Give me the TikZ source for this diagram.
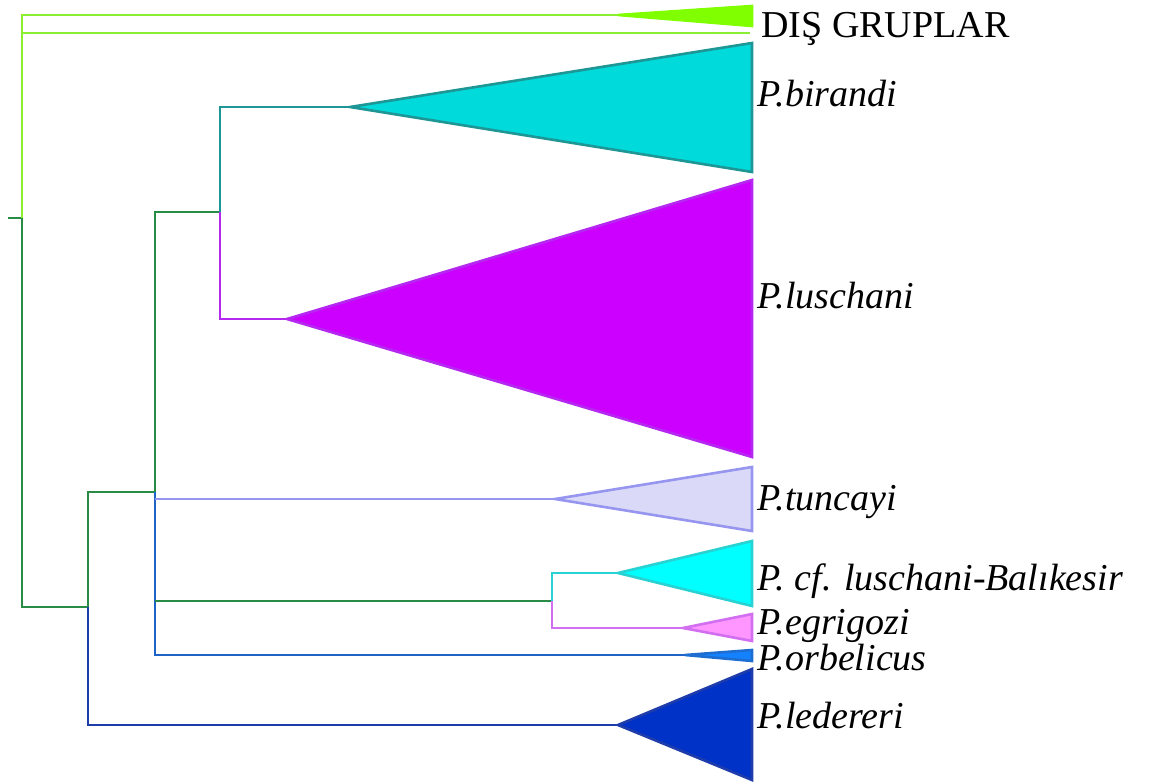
\documentclass[tikz,border=0pt]{standalone}
\usepackage{fontspec}
\setmainfont{Liberation Serif}
\definecolor{limeL}{RGB}{140,238,50}
\definecolor{limeF}{RGB}{128,255,0}
\definecolor{dgreen}{RGB}{40,140,70}
\definecolor{tealL}{RGB}{30,150,150}
\definecolor{tealF}{RGB}{0,218,218}
\definecolor{purpL}{RGB}{180,40,240}
\definecolor{purpF}{RGB}{204,0,255}
\definecolor{lavL}{RGB}{150,150,240}
\definecolor{lavF}{RGB}{218,218,248}
\definecolor{cyanL}{RGB}{40,210,210}
\definecolor{cyanF}{RGB}{0,255,255}
\definecolor{pinkL}{RGB}{210,110,240}
\definecolor{pinkF}{RGB}{255,150,255}
\definecolor{orbL}{RGB}{30,110,210}
\definecolor{orbF}{RGB}{20,130,255}
\definecolor{midblue}{RGB}{30,100,200}
\definecolor{navyL}{RGB}{30,60,170}
\definecolor{navyF}{RGB}{0,50,200}
\tikzset{
  branch/.style={line width=1.4pt},
  clade/.style={line width=1.3pt, line join=miter},
  taxon/.style={anchor=base west, inner sep=0pt, font=\fontsize{19pt}{21pt}\selectfont\itshape},
  outlabel/.style={anchor=base west, inner sep=0pt, font=\fontsize{19pt}{21pt}\selectfont}
}
\begin{document}
\begin{tikzpicture}[x=0.5pt,y=-0.5pt]
\useasboundingbox (0,0) rectangle (1152,782);
% internal nodes of the tree
\coordinate (stub) at (8,218);
\coordinate (root) at (22,218);
\coordinate (rootT) at (22,15);
\coordinate (rootT2) at (22,33);
\coordinate (rootB) at (22,607);
\coordinate (nA) at (88,607);
\coordinate (nAT) at (88,492);
\coordinate (nAB) at (88,725);
\coordinate (nB) at (155,492);
\coordinate (nBT) at (155,212);
\coordinate (nBt) at (155,499);
\coordinate (nBc) at (155,601);
\coordinate (nBB) at (155,655);
\coordinate (nC) at (220,212);
\coordinate (nCT) at (220,107);
\coordinate (nCB) at (220,319);
\coordinate (nD) at (552,601);
\coordinate (nDT) at (552,573);
\coordinate (nDB) at (552,628);
% clade apices
\coordinate (aOut) at (618,15);
\coordinate (eOut) at (750,33);
\coordinate (aBir) at (350,107);
\coordinate (aLus) at (287,319);
\coordinate (aTun) at (555,499);
\coordinate (aBal) at (618,573);
\coordinate (aEgr) at (683,628);
\coordinate (aOrb) at (685,655);
\coordinate (aLed) at (618,725);

% collapsed clades
\draw[clade, draw=limeF, fill=limeF] (aOut) -- (752,6) -- (752,26) -- cycle;
\draw[clade, draw=tealL, fill=tealF] (aBir) -- (752,43) -- (752,172) -- cycle;
\draw[clade, draw=purpL, fill=purpF] (aLus) -- (752,180) -- (752,457) -- cycle;
\draw[clade, draw=lavL, fill=lavF] (aTun) -- (752,467) -- (752,531) -- cycle;
\draw[clade, draw=cyanL, fill=cyanF] (aBal) -- (752,541) -- (752,606) -- cycle;
\draw[clade, draw=pinkL, fill=pinkF] (aEgr) -- (752,614) -- (752,641) -- cycle;
\draw[clade, draw=orbL, fill=orbF] (aOrb) -- (752,650) -- (752,661) -- cycle;
\draw[clade, draw=navyL, fill=navyF] (aLed) -- (752,669) -- (752,780) -- cycle;

% branches
\draw[branch, dgreen] (stub) -- (root);
\draw[branch, limeL] (root) -- (rootT) -- (aOut);
\draw[branch, limeL] (rootT2) -- (eOut);
\draw[branch, dgreen] (root) -- (rootB) -- (nA);
\draw[branch, dgreen] (nA) -- (nAT) -- (nB);
\draw[branch, navyL] (nA) -- (nAB) -- (aLed);
\draw[branch, dgreen] (nB) -- (nBT) -- (nC);
\draw[branch, midblue] (nB) -- (nBB) -- (aOrb);
\draw[branch, lavL] (nBt) -- (aTun);
\draw[branch, dgreen] (nBc) -- (nD);
\draw[branch, tealL] (nC) -- (nCT) -- (aBir);
\draw[branch, purpL] (nC) -- (nCB) -- (aLus);
\draw[branch, cyanL] (nD) -- (nDT) -- (aBal);
\draw[branch, pinkL] (nD) -- (nDB) -- (aEgr);

% labels
\node[outlabel] (lOut) at (761,37) {DIŞ GRUPLAR};
\node[taxon] (lBir) at (757,106) {P.birandi};
\node[taxon] (lLus) at (757,308) {P.luschani};
\node[taxon] (lTun) at (757,510) {P.tuncayi};
\node[taxon] (lBal) at (757,590) {P. cf. luschani-Balıkesir};
\node[taxon] (lEgr) at (757,634) {P.egrigozi};
\node[taxon] (lOrb) at (757,670) {P.orbelicus};
\node[taxon] (lLed) at (757,728) {P.ledereri};
\end{tikzpicture}
\end{document}
